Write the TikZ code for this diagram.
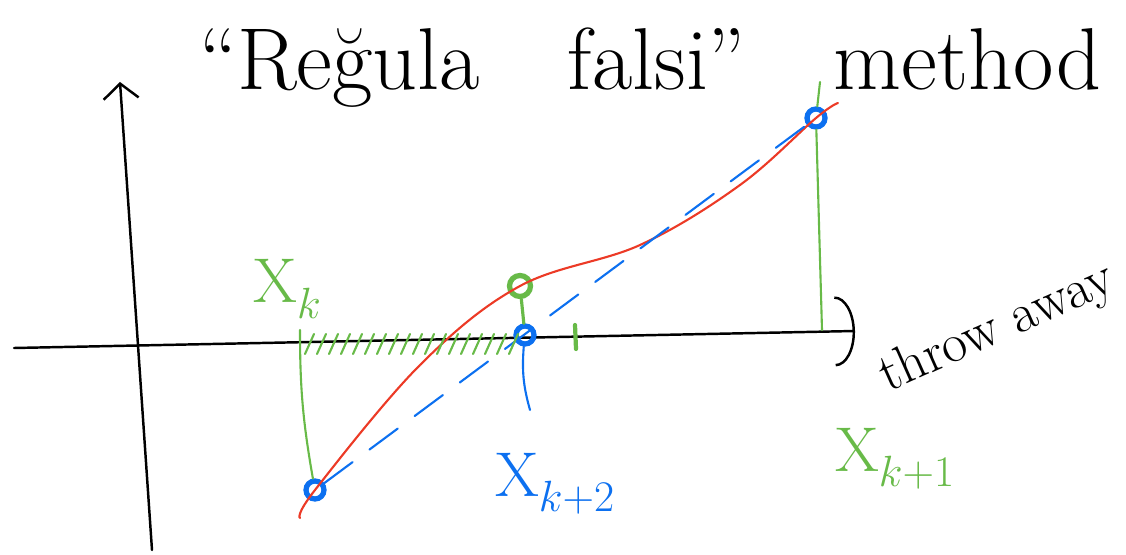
\documentclass[tikz,border=0pt]{standalone}
\usepackage{tikz}
\usetikzlibrary{arrows.meta}
\usepackage{xcolor}
\definecolor{penred}{RGB}{236,58,38}
\definecolor{pengreen}{RGB}{104,186,72}
\definecolor{penblue}{RGB}{12,112,240}

\begin{document}
\begin{tikzpicture}[line cap=round,
  axis/.style={line width=1.4pt,black},
  ring/.style={circle,draw=#1,line width=3pt,inner sep=0pt,minimum size=0.36cm},
  marker/.style={line width=1.2pt,pengreen},
  lbl/.style={font=\fontsize{36}{40}\selectfont}]
  \useasboundingbox (0,0) rectangle (22.52,11.08);
  % Achsen
  \coordinate (ybot) at (3.04,0.08);
  \coordinate (ytop) at (2.40,9.44);
  \coordinate (xleft) at (0.28,4.12);
  \coordinate (xright) at (17.1,4.46);
  \draw[axis,-{Straight Barb[length=3mm,width=7mm]}] (ybot) -- (ytop);
  \draw[axis,-{Arc Barb[length=4mm,width=14mm]}] (xleft) -- (xright);

  % Punkte
  \node[ring=penblue] (pk) at (6.30,1.28) {};
  \node[ring=pengreen,minimum size=0.42cm] (pm) at (10.40,5.36) {};
  \node[ring=penblue] (px) at (10.50,4.38) {};
  \node[ring=penblue] (pk1) at (16.32,8.72) {};

  % Funktion
  \draw[penred,line width=1.2pt] plot[smooth,tension=0.6] coordinates
    {(6.0,0.72) (6.3,1.28) (8.4,3.78) (10.4,5.36) (12.8,6.18) (14.8,7.38) (16.32,8.72) (16.76,9.02)};

  % Sekante
  \draw[penblue,line width=1.2pt,dash pattern=on 20pt off 12pt] (pk) -- (pk1);

  % Hilfslinien
  \coordinate (gk) at (6.0,4.48);
  \coordinate (gtop) at (16.40,9.44);
  \coordinate (gbot) at (16.44,4.48);
  \coordinate (bx) at (10.60,2.88);
  \draw[marker] (gk) to[bend right=5] (pk);
  \draw[marker] (gtop) -- (pk1) -- (gbot);
  \draw[marker,line width=1.8pt] (pm) -- (px);
  \draw[penblue,line width=1.2pt] (px) to[bend right=10] (bx);
  \draw[marker,line width=2.4pt] (11.50,4.58) -- (11.52,4.10);
  \foreach \i in {0,...,17}
    \draw[marker] (6.10+0.24*\i,4.00) -- (6.28+0.24*\i,4.40);

  % Beschriftung
  \node[lbl,pengreen] (xk) at (5.75,5.30) {X$_k$};
  \node[lbl,penblue] (xk2) at (11.10,1.40) {X$_{k+2}$};
  \node[lbl,pengreen] (xk1) at (17.90,1.90) {X$_{k+1}$};
  \node[font=\fontsize{31}{34}\selectfont,rotate=24] (throw) at (19.95,4.50) {throw away};
  \node[font=\fontsize{50}{56}\selectfont] (title) at (13.0,9.72) {``Reğula\quad falsi''\quad method};
\end{tikzpicture}
\end{document}
